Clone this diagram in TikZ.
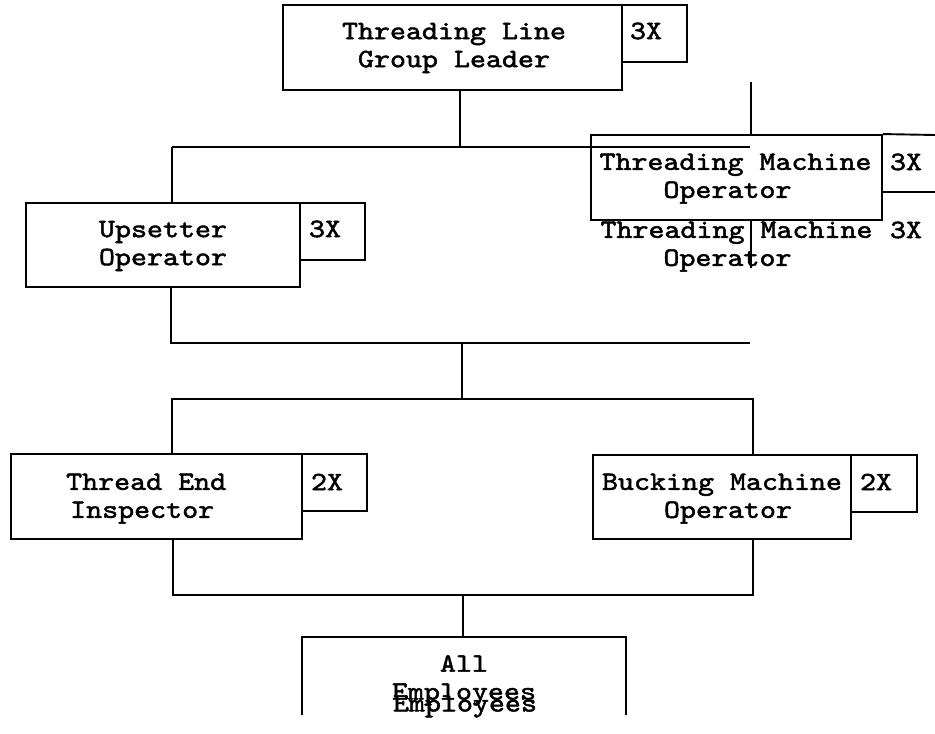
\documentclass[tikz,border=0pt]{standalone}
\usepackage{fontspec}
\newfontfamily\courfont{lmmono10-regular}[Extension=.otf, FakeBold=1.8, FakeStretch=1.15]
\begin{document}
\begin{tikzpicture}[x=1pt,y=-1pt,
  box/.style={draw, line width=1.9pt, inner sep=0pt},
  lbl/.style={font=\fontsize{26.5}{28}\selectfont\courfont, align=center, inner sep=0pt},
  conn/.style={line width=1.9pt}]
\useasboundingbox (0,0) rectangle (935,734);
% boxes
\node[box, minimum width=339pt, minimum height=85pt] (lead) at (452.5,47.5) {};
\node[box, minimum width=65pt, minimum height=57pt] (lead-n) at (654.5,33.5) {};
\node[box, minimum width=291pt, minimum height=85pt] (tm) at (736.5,177.5) {};
\coordinate (tmn-ne) at (935,135);
\coordinate (tmn-se) at (935,192);
\draw[conn] (tm.north east) -- (tmn-ne);
\draw[conn] (tm.east |- tmn-se) -- (tmn-se);
\node[box, minimum width=274pt, minimum height=84pt] (ups) at (163,245) {};
\node[box, minimum width=65pt, minimum height=57pt] (ups-n) at (332.5,231.5) {};
\node[box, minimum width=291pt, minimum height=85pt] (te) at (156.5,496.5) {};
\node[box, minimum width=65pt, minimum height=57pt] (te-n) at (334.5,482.5) {};
\node[box, minimum width=258pt, minimum height=84pt] (bk) at (722,497) {};
\node[box, minimum width=66pt, minimum height=57pt] (bk-n) at (884,483.5) {};
\node[inner sep=0pt, minimum width=324pt, minimum height=78pt] (all) at (464,676) {};
\draw[conn] (all.south west) -- (all.north west) -- (all.north east) -- (all.south east);
% texts
\node[lbl] (lead-t) at (454,48) {Threading Line\\Group Leader};
\node[lbl] (lead-nt) at (646,31) {3X};
\node[lbl] (tm-t) at (735.5,178.7) {Threading Machine\\\hspace*{-16pt}Operator};
\node[lbl] (tm-nt) at (906,162) {3X};
\node[lbl] (tm-g) at (736.5,246.7) {Threading Machine\\\hspace*{-18pt}Operator};
\node[lbl] (tm-gn) at (906,230) {3X};
\node[lbl] (ups-t) at (163,246) {Upsetter\\Operator};
\node[lbl] (ups-nt) at (325,229) {3X};
\node[lbl, align=left, anchor=west] (te-t) at (66,498.7) {Thread End\\\hspace*{4pt}Inspector};
\node[lbl] (te-nt) at (327,482) {2X};
\node[lbl] (bk-t) at (722,498.7) {Bucking Machine\\\hspace*{12pt}Operator};
\node[lbl] (bk-nt) at (876,482) {2X};
\node[lbl] (all-t) at (464,680.4) {All\\Employees};
\node[lbl] (all-g) at (465,706.4) {Employees};
% connectors
\coordinate (j1) at (460,147);
\coordinate (h1l) at (172,147);
\coordinate (h1r) at (750,147);
\draw[conn] (lead.south -| j1) -- (j1);
\draw[conn] (h1l) -- (h1r);
\draw[conn] (h1l) -- (ups.north -| h1l);
\coordinate (tmup) at (751,82);
\coordinate (tmdn) at (751,268);
\draw[conn] (tmup) -- (tm.north -| tmup);
\draw[conn] (tm.south -| tmdn) -- (tmdn);
\coordinate (h2l) at (171,343);
\coordinate (h2r) at (750,343);
\draw[conn] (ups.south -| h2l) -- (h2l) -- (h2r);
\coordinate (j2) at (462,343);
\coordinate (j3) at (462,399);
\draw[conn] (j2) -- (j3);
\coordinate (h3l) at (172,399);
\coordinate (h3r) at (753,399);
\draw[conn] (te.north -| h3l) -- (h3l) -- (h3r) -- (bk.north -| h3r);
\coordinate (h4l) at (173,595);
\coordinate (h4r) at (753,595);
\draw[conn] (te.south -| h4l) -- (h4l) -- (h4r) -- (bk.south -| h4r);
\coordinate (j4) at (463,595);
\draw[conn] (j4) -- (all.north -| j4);
\end{tikzpicture}
\end{document}
